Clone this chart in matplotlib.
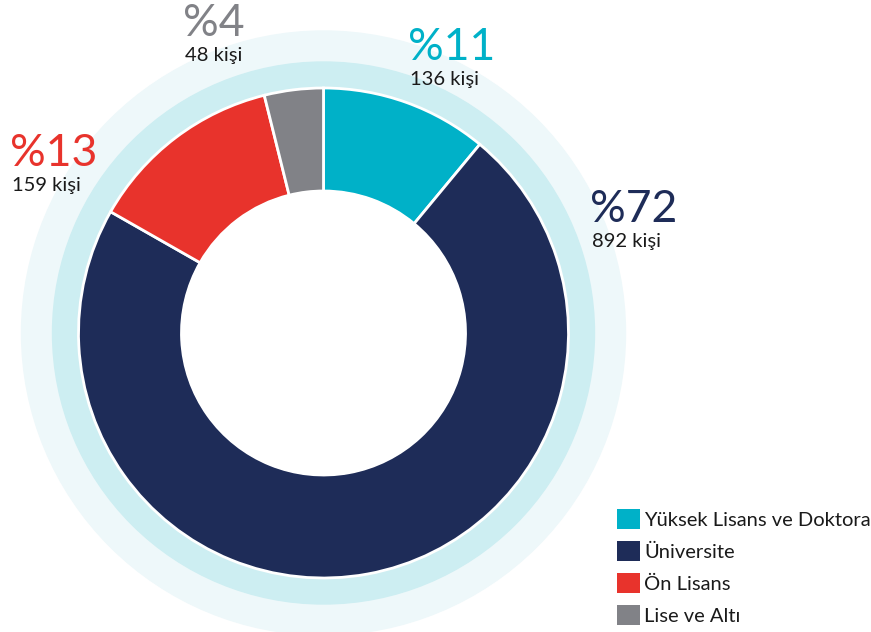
import matplotlib
matplotlib.use("Agg")
import matplotlib.pyplot as plt
from matplotlib.patches import Circle

categories = ["Yüksek Lisans ve Doktora", "Üniversite", "Ön Lisans", "Lise ve Altı"]
counts = [136, 892, 159, 48]
percents = ["%11", "%72", "%13", "%4"]
count_labels = ["136 kişi", "892 kişi", "159 kişi", "48 kişi"]
colors = ["#00B1C8", "#1E2C58", "#E8332C", "#818287"]

W, H = 871, 632
fig = plt.figure(figsize=(W / 100, H / 100), dpi=100)
ax = fig.add_axes([0, 0, 1, 1])

cx, cy = 323.5, H - 333
ax.add_patch(Circle((cx, cy), 302, color="#EEF8FA", zorder=0))
ax.add_patch(Circle((cx, cy), 271, color="#CDEEF2", zorder=1))

wedges, _ = ax.pie(counts, colors=colors, startangle=90, counterclock=False,
                   center=(cx, cy), radius=245, frame=True,
                   wedgeprops=dict(width=103, edgecolor="white", linewidth=2))
for w in wedges:
    w.set_zorder(2)
ax.add_patch(Circle((cx, cy), 142, color="white", zorder=3))
ax.set_xlim(0, W)
ax.set_ylim(0, H)
ax.set_aspect("equal")
ax.axis("off")

font = ["Lato", "DejaVu Sans"]
# label positions (x, top of percent y) in pixel coords
label_pos = [(410, 27), (592, 189), (12, 133), (185, 3)]
for (x, ytop), pct, cnt, col in zip(label_pos, percents, count_labels, colors):
    ax.text(x - 2, H - ytop, pct, color=col, fontsize=32, fontfamily=font,
            va="top", ha="left", zorder=5)
    ax.text(x, H - ytop - 44, cnt, color="#1a1a1a", fontsize=14.5, fontfamily=font,
            va="top", ha="left", zorder=5)

leg = ax.legend(wedges, categories, loc="upper left",
                bbox_to_anchor=(617 / W, 1 - 509 / H), frameon=False,
                prop=dict(family=font, size=14.5), handlelength=1.15,
                handleheight=1.15, handletextpad=0.2, labelspacing=0.6,
                labelcolor="#1a1a1a", borderpad=0, borderaxespad=0)
for h in leg.legend_handles:
    h.set_edgecolor("none")

fig.savefig("out.png", dpi=100)
